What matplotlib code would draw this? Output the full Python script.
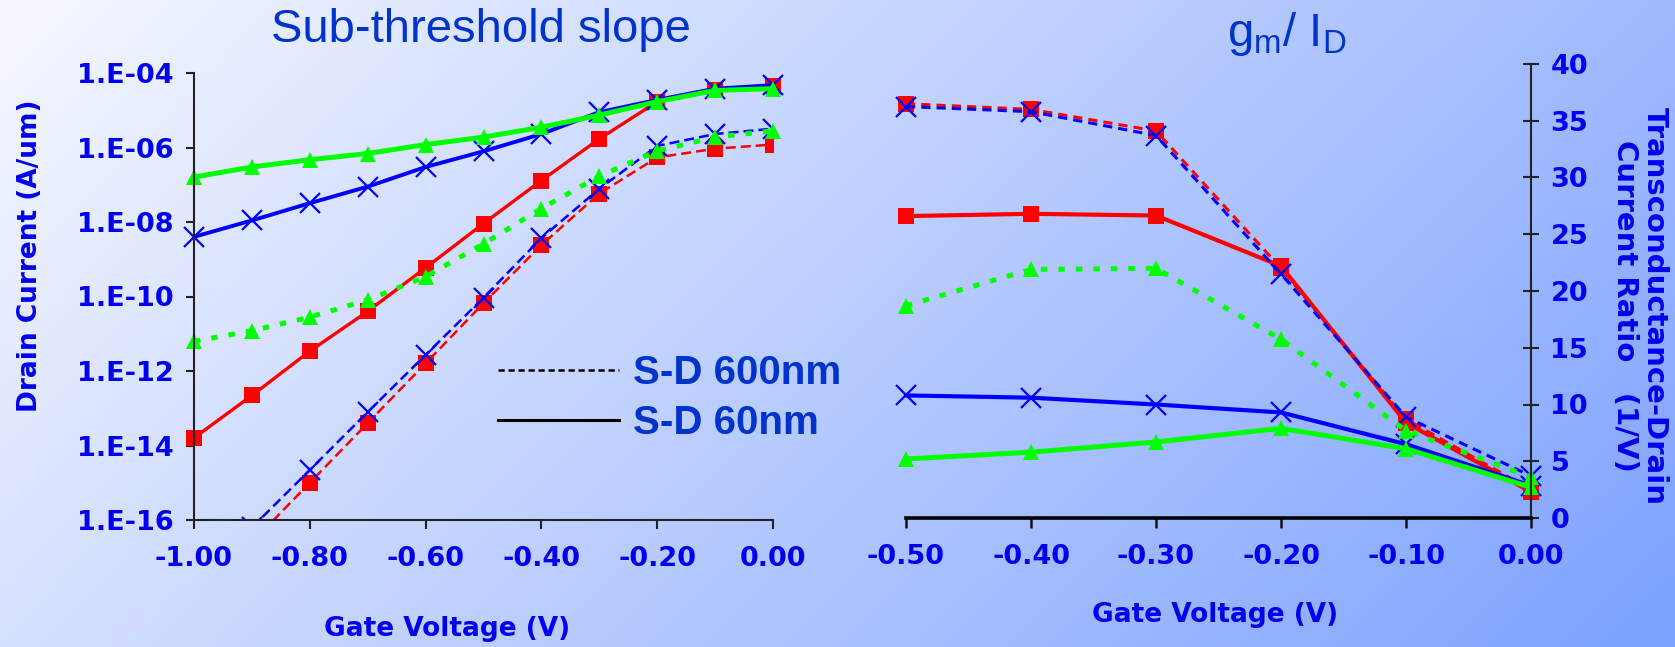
import numpy as np
import matplotlib
matplotlib.use("Agg")
import matplotlib.pyplot as plt
from matplotlib.lines import Line2D
from matplotlib.ticker import FixedLocator, FuncFormatter, NullLocator

plt.rcParams['axes.unicode_minus'] = False

# ---- data ----
vg_left = [-1.0, -0.9, -0.8, -0.7, -0.6, -0.5, -0.4, -0.3, -0.2, -0.1, 0.0]
nan = np.nan
# drain current (A/um), S-D 60nm (solid)
id_60_red = [1.6e-14, 2.2e-13, 3.4e-12, 4.0e-11, 5.9e-10, 9.1e-9, 1.3e-7, 1.7e-6, 1.7e-5, 3.6e-5, 4.6e-5]
id_60_blue = [4.0e-9, 1.1e-8, 3.2e-8, 8.9e-8, 3.0e-7, 7.9e-7, 2.3e-6, 8.9e-6, 1.9e-5, 3.8e-5, 4.7e-5]
id_60_green = [1.6e-7, 3.0e-7, 4.7e-7, 6.9e-7, 1.2e-6, 1.9e-6, 3.5e-6, 7.4e-6, 1.7e-5, 3.4e-5, 3.8e-5]
# drain current (A/um), S-D 600nm (dashed)
id_600_red = [nan, 2.5e-17, 1.0e-15, 4.0e-14, 1.6e-12, 6.6e-11, 2.4e-9, 5.8e-8, 5.4e-7, 9.3e-7, 1.2e-6]
id_600_blue = [nan, 6.3e-17, 2.2e-15, 7.9e-14, 2.7e-12, 9.3e-11, 3.7e-9, 7.8e-8, 1.1e-6, 2.3e-6, 3.2e-6]
id_600_green = [6.3e-12, 1.2e-11, 2.8e-11, 8.1e-11, 3.4e-10, 2.6e-9, 2.3e-8, 1.7e-7, 8.1e-7, 1.9e-6, 2.8e-6]

vg_right = [-0.5, -0.4, -0.3, -0.2, -0.1, 0.0]
# gm/Id (1/V)
gm_60_red = [26.6, 26.8, 26.65, 22.2, 8.4, 2.3]
gm_60_blue = [10.8, 10.6, 10.0, 9.3, 6.5, 2.85]
gm_60_green = [5.2, 5.8, 6.7, 7.9, 6.1, 2.7]
gm_600_red = [36.5, 36.0, 34.1, 22.0, 8.7, 2.5]
gm_600_blue = [36.25, 35.8, 33.7, 21.5, 8.9, 3.7]
gm_600_green = [18.7, 21.9, 22.0, 15.75, 7.7, 3.6]

left_yticks = [1e-4, 1e-6, 1e-8, 1e-10, 1e-12, 1e-14, 1e-16]
left_xticks = [-1.0, -0.8, -0.6, -0.4, -0.2, 0.0]
right_xticks = [-0.5, -0.4, -0.3, -0.2, -0.1, 0.0]
right_yticks = [0, 5, 10, 15, 20, 25, 30, 35, 40]

RED, GREEN, BLUE = '#ff0000', '#00ff00', '#0000ff'
TICKBLUE = '#0000ee'
TITLEBLUE = '#0033cc'

W, H = 1675, 647
fig = plt.figure(figsize=(W / 100, H / 100), dpi=100)

# background gradient (bilinear between corner colours)
bg = fig.add_axes([0, 0, 1, 1], zorder=-10)
bg.axis('off')
tl = np.array([246, 248, 255]) / 255
tr = np.array([160, 186, 255]) / 255
bl = np.array([214, 224, 255]) / 255
br = np.array([124, 162, 255]) / 255
xx, yy = np.meshgrid(np.linspace(0, 1, 300), np.linspace(0, 1, 120))
xx = xx[..., None]
yy = yy[..., None]
img = (1 - xx) * (1 - yy) * tl + xx * (1 - yy) * tr + (1 - xx) * yy * bl + xx * yy * br
bg.imshow(img, aspect='auto', extent=[0, 1, 0, 1], origin='upper', interpolation='bilinear')
bg.set_xlim(0, 1)
bg.set_ylim(0, 1)

tick_font = dict(family='DejaVu Sans', weight='bold', size=19.5)
label_font = dict(family='DejaVu Sans', weight='bold', size=19, color=TICKBLUE)

# ---------------- left: sub-threshold slope ----------------
ax1 = fig.add_axes([194 / W, 1 - 520 / H, (773 - 194) / W, (520 - 73) / H])
ax1.set_facecolor('none')
ax1.set_yscale('log')

dash_thin = (4, 2)
dash_dot = (1.3, 2.2)
ax1.plot(vg_left, id_600_red, color=RED, lw=1.8, dashes=dash_thin, marker='s', ms=11, mew=0)
ax1.plot(vg_left, id_60_red, color=RED, lw=2.4, marker='s', ms=11, mew=0, clip_on=False)
ax1.plot(vg_left, id_600_blue, color=BLUE, lw=1.8, dashes=dash_thin, marker='x', ms=14, mew=1.6)
ax1.plot(vg_left, id_60_blue, color=BLUE, lw=2.8, marker='x', ms=14, mew=1.6, clip_on=False)
ax1.plot(vg_left, id_600_green, color=GREEN, lw=3.6, dashes=dash_dot, marker='^', ms=12, mew=0, clip_on=False)
ax1.plot(vg_left, id_60_green, color=GREEN, lw=3.6, marker='^', ms=12, mew=0, clip_on=False)

ax1.set_xlim(-1.0, 0.0)
ax1.set_ylim(1e-16, 1e-4)
ax1.yaxis.set_major_locator(FixedLocator(left_yticks))
ax1.yaxis.set_minor_locator(NullLocator())
ax1.yaxis.set_major_formatter(FuncFormatter(lambda v, p: '1.E%03d' % int(round(np.log10(v)))))
ax1.xaxis.set_major_locator(FixedLocator(left_xticks))
ax1.xaxis.set_major_formatter(FuncFormatter(lambda v, p: '%.2f' % v if abs(v) > 1e-9 else '0.00'))
for s in ['top', 'right']:
    ax1.spines[s].set_visible(False)
for s in ['left', 'bottom']:
    ax1.spines[s].set_color('#222222')
    ax1.spines[s].set_linewidth(1.5)
ax1.tick_params(axis='y', direction='out', length=5.5, width=1.5, pad=9, colors='#222222', labelcolor=TICKBLUE)
ax1.tick_params(axis='x', direction='out', length=6.5, width=1.5, pad=12, colors='#222222', labelcolor=TICKBLUE)
for t in ax1.get_xticklabels() + ax1.get_yticklabels():
    t.set_fontproperties(tick_font)

legend_handles = [Line2D([], [], color='black', lw=1.8, dashes=(2.5, 1.5)),
                  Line2D([], [], color='black', lw=2.2)]
leg = ax1.legend(legend_handles, ['S-D 600nm', 'S-D 60nm'], loc='center left',
                 bbox_to_anchor=(462 / W, 1 - 398 / H), bbox_transform=fig.transFigure,
                 frameon=False, handlelength=3.0, handletextpad=0.35, labelspacing=0.3,
                 prop=dict(family='Liberation Sans', weight='bold', size=29))
for t in leg.get_texts():
    t.set_color(TITLEBLUE)

fig.text(481 / W, 1 - 30 / H, 'Sub-threshold slope', ha='center', va='center',
         color=TITLEBLUE, family='Liberation Sans', size=34)
fig.text(30 / W, 1 - 256 / H, 'Drain Current (A/um)', rotation=90, ha='center', va='center',
         **label_font)
fig.text(447 / W, 1 - 629 / H, 'Gate Voltage (V)', ha='center', va='center', **label_font)

# ---------------- right: gm / Id ----------------
ax2 = fig.add_axes([906 / W, 1 - 518 / H, (1531 - 906) / W, (518 - 64) / H])
ax2.set_facecolor('none')

ax2.plot(vg_right, gm_600_red, color=RED, lw=2.2, dashes=(3, 2), marker='s', ms=11, mew=0, clip_on=False)
ax2.plot(vg_right, gm_60_red, color=RED, lw=3.0, marker='s', ms=11, mew=0, clip_on=False)
ax2.plot(vg_right, gm_600_blue, color=BLUE, lw=2.2, dashes=(3, 2), marker='x', ms=14, mew=1.6, clip_on=False)
ax2.plot(vg_right, gm_60_blue, color=BLUE, lw=3.0, marker='x', ms=14, mew=1.6, clip_on=False)
ax2.plot(vg_right, gm_600_green, color=GREEN, lw=3.6, dashes=dash_dot, marker='^', ms=12, mew=0, clip_on=False)
ax2.plot(vg_right, gm_60_green, color=GREEN, lw=3.6, marker='^', ms=12, mew=0, clip_on=False)

ax2.set_xlim(-0.5, 0.0)
ax2.set_ylim(0, 40)
ax2.xaxis.set_major_locator(FixedLocator(right_xticks))
ax2.xaxis.set_major_formatter(FuncFormatter(lambda v, p: '%.2f' % v if abs(v) > 1e-9 else '0.00'))
ax2.yaxis.set_major_locator(FixedLocator(right_yticks))
ax2.yaxis.tick_right()
for s in ['top', 'left']:
    ax2.spines[s].set_visible(False)
ax2.spines['right'].set_color('#222222')
ax2.spines['right'].set_linewidth(1.5)
ax2.spines['bottom'].set_color('black')
ax2.spines['bottom'].set_linewidth(2.6)
ax2.tick_params(axis='y', direction='inout', length=12, width=1.5, pad=8, colors='#222222', labelcolor=TICKBLUE)
ax2.tick_params(axis='x', direction='out', length=7, width=1.8, pad=12, colors='#111111', labelcolor=TICKBLUE)
for t in ax2.get_xticklabels() + ax2.get_yticklabels():
    t.set_fontproperties(tick_font)

fig.text(1287 / W, 1 - 34 / H, r'g$_{\mathregular{m}}$/ I$_{\mathregular{D}}$', ha='center', va='center',
         color=TITLEBLUE, family='Liberation Sans', size=34)
fig.text(1640 / W, 1 - 306 / H, 'Transconductance-Drain\nCurrent Ratio   (1/V)', rotation=-90,
         ha='center', va='center', multialignment='center', linespacing=1.05,
         family='DejaVu Sans', weight='bold', size=21, color=TICKBLUE)
fig.text(1215 / W, 1 - 615 / H, 'Gate Voltage (V)', ha='center', va='center', **label_font)

fig.savefig('out.png', dpi=100)
